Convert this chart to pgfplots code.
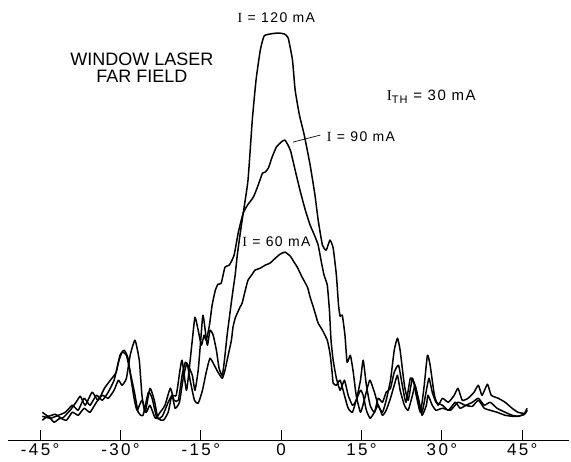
\documentclass[border=0pt]{standalone}
\usepackage{pgfplots}
\pgfplotsset{compat=1.18}
\usepackage{fontspec}
\setmainfont{Liberation Sans}
\newfontfamily\spaced[LetterSpace=10]{Liberation Sans}
\newfontfamily\tickfont[LetterSpace=14]{Liberation Sans}
\newfontfamily\serifI{Liberation Serif}

% far-field intensity (arbitrary units) vs angle in degrees
\pgfplotstableread{
deg h
-44.6 28
-43.5 24
-42.2 26
-40.9 22
-39.4 30
-38.3 38
-37.5 44
-36.6 35
-35.3 48
-34.2 40
-33.0 52
-31.9 60
-30.8 68
-30.1 85
-29.3 90
-28.6 82
-28.0 60
-27.4 40
-26.9 30
-26.0 40
-25.2 28
-24.5 35
-23.5 22
-22.6 28
-21.7 35
-20.7 52
-20.0 40
-19.2 40
-18.5 65
-17.9 78
-17.4 75
-16.6 65
-16.1 50
-15.5 70
-15.1 95
-14.6 125
-13.8 95
-13.3 110
-12.7 105
-12.1 90
-11.6 72
-11.0 65
-10.6 80
-10.1 105
-9.5 130
-9.0 150
-8.6 165
-8.2 185
-7.7 205
-7.1 227
-6.2 260
-5.4 320
-4.7 360
-3.9 390
-3.2 404
-2.1 406
-0.6 407
0.6 406
1.3 402
2.1 380
2.6 350
3.4 325
4.3 305
5.4 275
6.3 245
6.9 220
7.7 195
8.4 190
9.1 200
9.7 192
10.3 165
10.7 135
11.0 124
11.4 125
11.9 105
12.3 78
12.9 85
13.4 70
14.0 45
14.8 28
15.5 40
16.2 55
16.6 60
17.4 48
18.1 35
18.9 28
19.6 40
20.4 60
21.1 90
21.7 102
22.2 90
23.0 55
23.7 40
24.5 62
25.2 45
26.0 28
26.7 55
27.3 85
27.8 75
28.6 45
29.3 35
30.1 42
31.2 38
32.3 45
33.0 52
33.8 40
34.9 42
36.0 48
36.8 55
37.5 45
38.5 56
39.2 45
40.5 42
41.8 38
43.1 32
44.2 28
45.4 27
45.9 32
}\cur

\pgfplotstableread{
deg h
-44.6 24
-43.1 22
-41.6 25
-40.3 28
-39.0 35
-37.9 30
-36.8 42
-35.7 35
-34.5 45
-33.4 40
-32.3 48
-31.2 60
-30.4 78
-29.7 88
-28.9 85
-28.2 68
-27.4 48
-26.7 28
-25.8 25
-24.8 48
-24.1 42
-23.2 22
-22.2 24
-21.1 38
-20.4 45
-19.6 45
-18.9 70
-18.5 80
-17.7 50
-17.2 70
-16.6 100
-16.1 123
-15.5 110
-14.9 95
-14.4 105
-14.0 100
-13.4 115
-12.9 135
-12.3 150
-11.8 156
-11.2 157
-10.5 173
-9.7 175
-8.8 185
-8.0 208
-7.1 227
-6.3 235
-5.2 243
-4.3 255
-3.5 267
-3.0 268
-2.4 272
-1.7 283
-0.9 293
0.0 298
0.7 300
1.7 290
2.6 270
3.5 250
4.5 230
5.4 215
6.2 205
6.9 195
7.5 178
8.0 165
8.6 155
9.0 130
9.3 100
9.7 80
10.3 62
11.0 50
11.8 60
12.5 45
13.3 35
14.0 40
14.8 60
15.3 80
15.9 55
16.6 35
17.4 28
18.1 42
18.9 38
19.6 48
20.4 52
21.1 68
21.9 75
22.6 55
23.3 38
24.1 62
24.8 58
25.6 42
26.3 28
27.1 50
27.6 62
28.2 48
28.9 38
30.1 35
31.2 30
32.5 38
33.4 32
34.5 35
35.7 38
36.8 42
37.9 35
39.0 38
40.3 32
41.8 28
43.1 25
44.2 24
45.4 26
45.9 30
}\curb

\pgfplotstableread{
deg h
-44.6 20
-43.5 24
-42.4 18
-41.3 22
-40.1 20
-39.0 28
-37.9 25
-36.8 32
-35.7 28
-34.5 38
-33.4 45
-32.3 42
-31.2 50
-30.4 60
-29.7 55
-28.9 62
-28.2 85
-27.3 100
-26.5 80
-26.0 45
-25.4 28
-24.5 52
-23.7 40
-23.0 22
-22.0 20
-21.1 28
-20.4 45
-19.8 32
-19.0 38
-18.3 62
-17.6 77
-17.0 60
-16.2 40
-15.5 37
-14.7 50
-14.0 68
-13.3 82
-12.5 75
-11.8 68
-11.0 62
-10.5 70
-9.9 85
-9.3 100
-9.0 113
-8.6 122
-8.2 127
-7.7 133
-7.3 137
-6.7 150
-6.2 160
-5.4 166
-4.9 170
-3.9 172
-3.0 175
-2.1 177
-1.1 182
-0.2 186
0.7 188
1.7 184
2.4 178
3.0 173
3.9 163
4.9 153
5.4 143
6.0 133
6.5 124
6.9 117
7.7 110
8.6 100
9.0 90
9.2 83
9.5 68
9.7 57
10.3 55
11.0 60
11.8 45
12.5 32
13.3 28
14.0 40
14.8 50
15.3 45
15.9 30
16.6 22
17.4 28
18.1 35
18.9 25
19.6 30
20.4 42
21.1 55
21.7 65
22.2 50
23.0 35
23.7 30
24.5 45
25.0 55
25.6 40
26.3 25
27.1 35
27.4 45
28.2 35
28.9 30
30.1 32
31.6 30
33.0 38
34.3 35
35.7 34
36.8 40
37.9 32
39.0 30
40.3 28
41.8 25
43.1 24
44.2 24
45.4 26
45.9 30
}\curc

\begin{document}
\begin{tikzpicture}
\begin{axis}[
    scale only axis,
    width=561pt, height=440pt,
    xmin=-51.0, xmax=53.8,
    ymin=0, ymax=440,
    axis x line=bottom,
    axis y line=none,
    x axis line style={-, line width=1.3pt},
    xtick={-45,-30,-15,0,15,30,45},
    xticklabels={-45°,-30°,-15°,0,15°,30°,45°},
    tick align=inside,
    major tick length=10pt,
    tick style={line width=1.1pt, black},
    xticklabel style={font=\tickfont\fontsize{17}{17}\selectfont, inner sep=1pt, yshift=-2pt},
    clip=false,
]
\addplot[black, no markers, line width=1.5pt, smooth, tension=0.3, line join=round] table[x=deg, y=h] {\cur};
\addplot[black, no markers, line width=1.5pt, smooth, tension=0.3, line join=round] table[x=deg, y=h] {\curb};
\addplot[black, no markers, line width=1.5pt, smooth, tension=0.3, line join=round] table[x=deg, y=h] {\curc};

\node[font=\spaced\fontsize{14}{14}\selectfont] at (axis cs:-0.9,422) {{\serifI I} = 120 mA};
\node[font=\fontsize{18}{17}\selectfont, align=center] at (axis cs:-26.0,372) {WINDOW LASER\\FAR FIELD};
\node[font=\spaced\fontsize{15}{15}\selectfont] at (axis cs:28.0,343) {{\serifI I}\raisebox{-0.35ex}{\fontsize{11}{11}\selectfont TH} = 30 mA};
\node[font=\spaced\fontsize{14}{14}\selectfont] at (axis cs:14.9,303) {{\serifI I} = 90 mA};
\draw[line width=0.7pt] (axis cs:2.2,298) -- (axis cs:7.3,305);
\node[font=\spaced\fontsize{14}{14}\selectfont] at (axis cs:-0.9,198) {{\serifI I} = 60 mA};

\coordinate (BL) at (axis cs:-52.5,-21);
\coordinate (TR) at (axis cs:54.1,440);
\end{axis}
\pgfresetboundingbox
\path[use as bounding box] (BL) rectangle (TR);
\end{tikzpicture}
\end{document}
